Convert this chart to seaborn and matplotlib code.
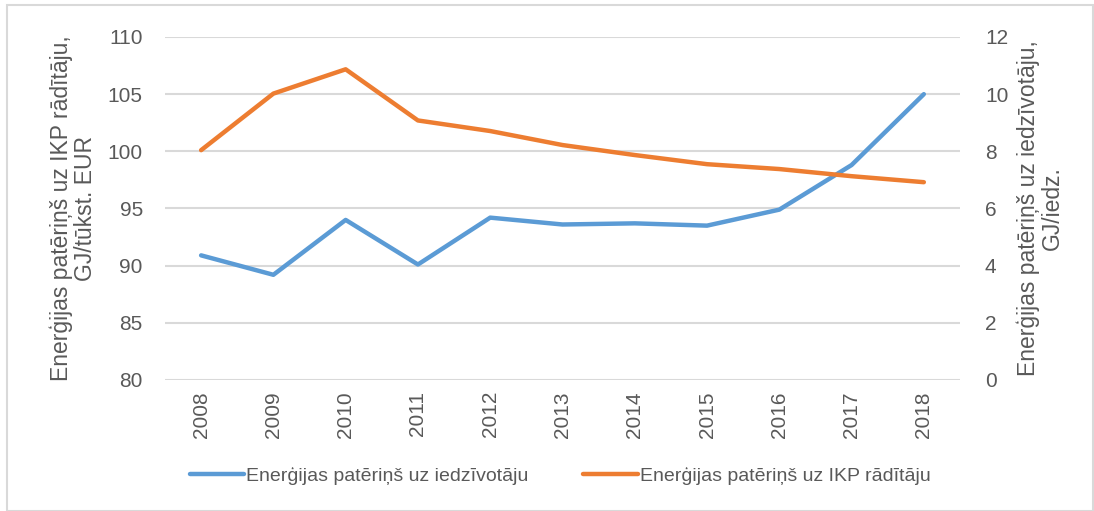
import numpy as np
import matplotlib
matplotlib.use("Agg")
import matplotlib.pyplot as plt
import seaborn as sns
import pandas as pd
from matplotlib.patches import Rectangle

years = [2008, 2009, 2010, 2011, 2012, 2013, 2014, 2015, 2016, 2017, 2018]
per_capita = [90.9, 89.2, 94.0, 90.1, 94.2, 93.6, 93.7, 93.5, 94.9, 98.8, 105.0]
per_gdp = [8.04, 10.02, 10.87, 9.08, 8.71, 8.22, 7.87, 7.55, 7.38, 7.13, 6.92]

label_capita = "Enerģijas patēriņš uz iedzīvotāju"
label_gdp = "Enerģijas patēriņš uz IKP rādītāju"

blue = "#5b9bd5"
orange = "#ed7d31"
grey = "#595959"

sns.set_theme(style="white")
plt.rcParams['font.family'] = ['Liberation Sans', 'DejaVu Sans']

df = pd.DataFrame({"pos": np.arange(len(years)), "cap": per_capita, "gdp": per_gdp})

fig = plt.figure(figsize=(10.94, 5.11), dpi=100)
ax = fig.add_axes([0.1508, 0.2564, 0.7267, 0.6712])
ax2 = ax.twinx()

sns.lineplot(data=df, x="pos", y="cap", ax=ax, color=blue, linewidth=3.2,
             label=label_capita, legend=False)
sns.lineplot(data=df, x="pos", y="gdp", ax=ax2, color=orange, linewidth=3.2,
             label=label_gdp, legend=False)

ax.set_ylim(80, 110)
ax.set_yticks(range(80, 111, 5))
ax2.set_ylim(0, 12)
ax2.set_yticks(range(0, 13, 2))
ax.set_xlim(-0.5, len(years) - 0.5)
ax.set_xticks(df["pos"])
ax.set_xticklabels(years, rotation=90)

ax.grid(axis="y", color="#d9d9d9", linewidth=1.5)
ax.set_axisbelow(True)
for a in (ax, ax2):
    for s in a.spines.values():
        s.set_visible(False)
    a.tick_params(length=0, labelsize=15, colors=grey)
ax.tick_params(axis="y", pad=16)
ax2.tick_params(axis="y", pad=18)
ax.tick_params(axis="x", pad=8)

ax.set_xlabel("")
ax.set_ylabel("Enerģijas patēriņš uz IKP rādītāju,\nGJ/tūkst. EUR", fontsize=16.5,
              color=grey, labelpad=8, linespacing=1.05)
ax2.set_ylabel("Enerģijas patēriņš uz iedzīvotāju,\nGJ/iedz.", fontsize=16.5,
               color=grey, labelpad=6, linespacing=1.05)

h1, l1 = ax.get_legend_handles_labels()
h2, l2 = ax2.get_legend_handles_labels()
fig.legend(h1 + h2, l1 + l2, loc="center", bbox_to_anchor=(0.512, 0.068), ncol=2,
           frameon=False, fontsize=14, labelcolor=grey, handlelength=2.8,
           handletextpad=0.1, columnspacing=2.8)

fig.patches.append(Rectangle((0.0065, 0.0), 0.993, 0.99, transform=fig.transFigure,
                             fill=False, edgecolor="#d9d9d9", linewidth=1.5))

fig.savefig("out.png", dpi=100)
